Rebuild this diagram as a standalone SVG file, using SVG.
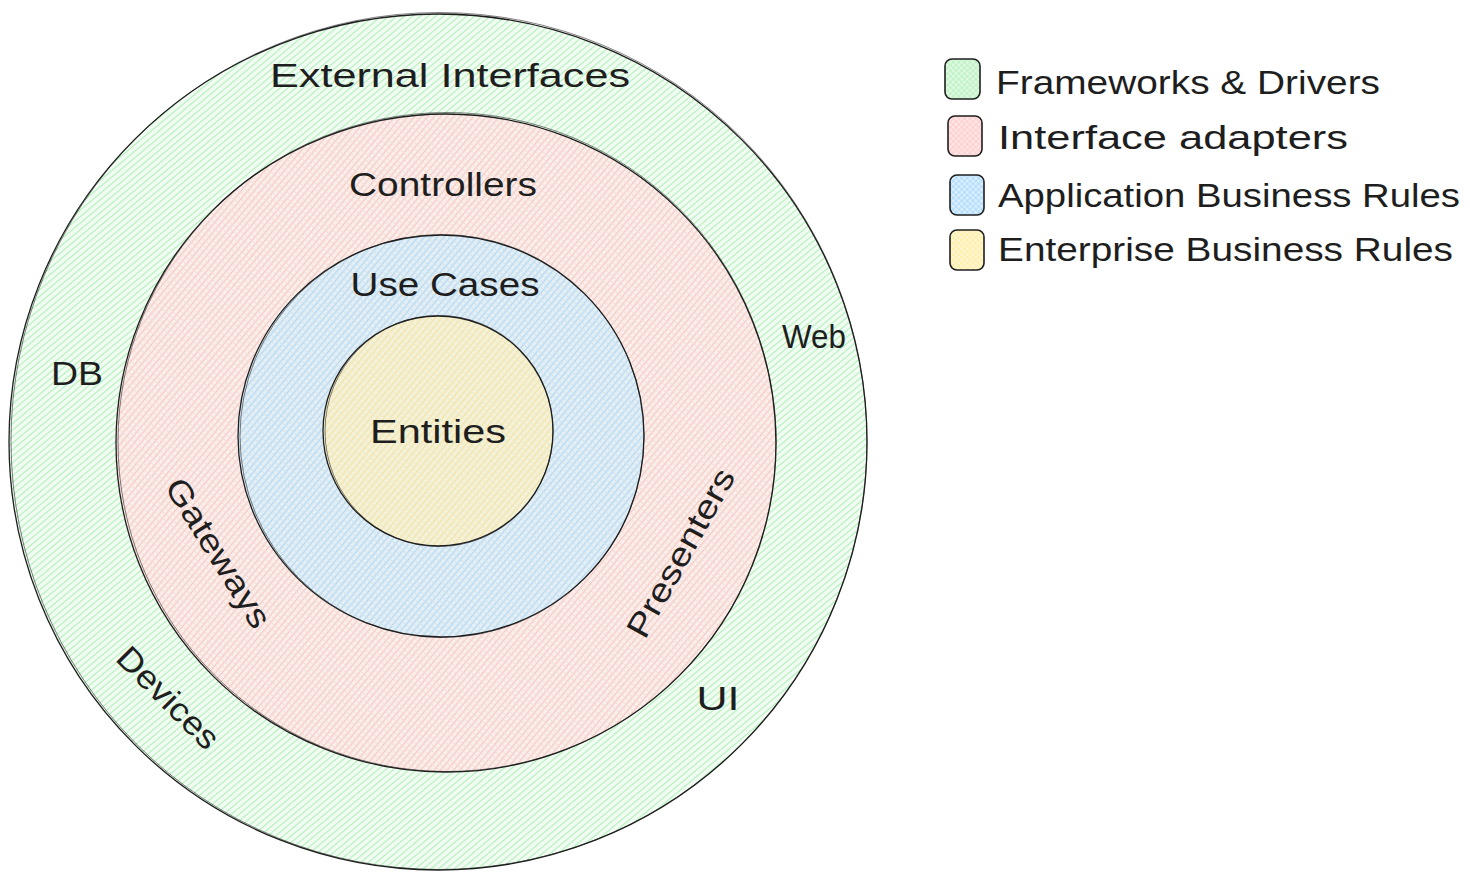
<svg xmlns="http://www.w3.org/2000/svg" width="1470" height="880" viewBox="0 0 1470 880">
<defs>
<pattern id="hG" width="5" height="5" patternUnits="userSpaceOnUse" patternTransform="rotate(-40)">
<rect width="5" height="5" fill="#f3fbf4"/>
<line x1="0" y1="2.5" x2="5" y2="2.5" stroke="#b2f2bb" stroke-width="1.2"/>
</pattern>
<pattern id="hR" width="5" height="5" patternUnits="userSpaceOnUse" patternTransform="rotate(-50)">
<rect width="5" height="5" fill="#fbefec"/>
<line x1="0" y1="2.5" x2="5" y2="2.5" stroke="#f6c9c4" stroke-width="1.3"/>
<line x1="2.5" y1="0" x2="2.5" y2="5" stroke="#f3dcd6" stroke-width="0.8"/>
</pattern>
<pattern id="hB" width="5" height="5" patternUnits="userSpaceOnUse" patternTransform="rotate(-50)">
<rect width="5" height="5" fill="#e4eff6"/>
<line x1="0" y1="2.5" x2="5" y2="2.5" stroke="#b4d8f2" stroke-width="1.3"/>
<line x1="2.5" y1="0" x2="2.5" y2="5" stroke="#cfe2ea" stroke-width="0.8"/>
</pattern>
<pattern id="hY" width="5" height="5" patternUnits="userSpaceOnUse" patternTransform="rotate(-50)">
<rect width="5" height="5" fill="#f7f1d8"/>
<line x1="0" y1="2.5" x2="5" y2="2.5" stroke="#f2e4a4" stroke-width="1.3"/>
<line x1="2.5" y1="0" x2="2.5" y2="5" stroke="#e6eccf" stroke-width="0.8"/>
</pattern>
<pattern id="lG" width="4" height="4" patternUnits="userSpaceOnUse" patternTransform="rotate(45)">
<rect width="4" height="4" fill="#e6f8e8"/>
<line x1="0" y1="2" x2="4" y2="2" stroke="#b2f2bb" stroke-width="1"/>
<line x1="2" y1="0" x2="2" y2="4" stroke="#b2f2bb" stroke-width="1"/>
</pattern>
<pattern id="lR" width="4" height="4" patternUnits="userSpaceOnUse" patternTransform="rotate(45)">
<rect width="4" height="4" fill="#fdeaea"/>
<line x1="0" y1="2" x2="4" y2="2" stroke="#ffc9c9" stroke-width="1"/>
<line x1="2" y1="0" x2="2" y2="4" stroke="#ffc9c9" stroke-width="1"/>
</pattern>
<pattern id="lB" width="4" height="4" patternUnits="userSpaceOnUse" patternTransform="rotate(45)">
<rect width="4" height="4" fill="#e3f2fd"/>
<line x1="0" y1="2" x2="4" y2="2" stroke="#a5d8ff" stroke-width="1"/>
<line x1="2" y1="0" x2="2" y2="4" stroke="#a5d8ff" stroke-width="1"/>
</pattern>
<pattern id="lY" width="4" height="4" patternUnits="userSpaceOnUse" patternTransform="rotate(45)">
<rect width="4" height="4" fill="#fff8dc"/>
<line x1="0" y1="2" x2="4" y2="2" stroke="#ffec99" stroke-width="1"/>
<line x1="2" y1="0" x2="2" y2="4" stroke="#ffec99" stroke-width="1"/>
</pattern>
</defs>
<style>
.ring{stroke:#1e1e1e;stroke-width:1.3}
.sk{fill:none;stroke:#1e1e1e;stroke-width:0.8;opacity:0.7}
.lbl{font-family:"Liberation Sans","Noto Sans",sans-serif;font-size:33px;fill:#1e1e1e;text-anchor:middle}
.leg{font-family:"Liberation Sans","Noto Sans",sans-serif;font-size:33px;fill:#1e1e1e}
.box{stroke:#1e1e1e;stroke-width:1.6}
</style>
<rect width="1470" height="880" fill="#ffffff"/>

<g id="frameworks-drivers">
<ellipse class="ring" cx="438" cy="442" rx="429" ry="428" fill="url(#hG)"/>
<ellipse class="sk" cx="439" cy="441" rx="428" ry="428.5"/>
<text class="lbl" x="450" y="87" textLength="360" lengthAdjust="spacingAndGlyphs">External Interfaces</text>
<text class="lbl" x="77" y="385" textLength="52" lengthAdjust="spacingAndGlyphs">DB</text>
<text class="lbl" x="814" y="348" textLength="64" lengthAdjust="spacingAndGlyphs">Web</text>
<text class="lbl" x="718" y="710" textLength="43" lengthAdjust="spacingAndGlyphs">UI</text>
<text class="lbl" transform="translate(168,698) rotate(45)" y="11" textLength="130" lengthAdjust="spacingAndGlyphs">Devices</text>
</g>

<g id="interface-adapters">
<ellipse class="ring" cx="446" cy="443" rx="330" ry="329" fill="url(#hR)"/>
<ellipse class="sk" cx="447" cy="442" rx="329" ry="329.5"/>
<text class="lbl" x="443" y="196" textLength="188" lengthAdjust="spacingAndGlyphs">Controllers</text>
<text class="lbl" transform="translate(218,553) rotate(58)" y="11" textLength="170" lengthAdjust="spacingAndGlyphs">Gateways</text>
<text class="lbl" transform="translate(681,553) rotate(-61)" y="11" textLength="188" lengthAdjust="spacingAndGlyphs">Presenters</text>
</g>

<g id="application-business-rules">
<ellipse class="ring" cx="441" cy="436" rx="203" ry="201" fill="url(#hB)"/>
<ellipse class="sk" cx="442" cy="436" rx="202" ry="201.5"/>
<text class="lbl" x="445" y="296" textLength="189" lengthAdjust="spacingAndGlyphs">Use Cases</text>
</g>

<g id="enterprise-business-rules">
<ellipse class="ring" cx="438" cy="431" rx="115" ry="115" fill="url(#hY)"/>
<ellipse class="sk" cx="439" cy="431" rx="114" ry="115.5"/>
<text class="lbl" x="438" y="443" textLength="136" lengthAdjust="spacingAndGlyphs">Entities</text>
</g>

<g id="legend">
<g id="legend-frameworks">
<rect class="box" x="945" y="59" width="35" height="40" rx="7" fill="url(#lG)"/>
<text class="leg" x="996" y="94" textLength="384" lengthAdjust="spacingAndGlyphs">Frameworks &amp; Drivers</text>
</g>
<g id="legend-adapters">
<rect class="box" x="948" y="116" width="34" height="40" rx="7" fill="url(#lR)"/>
<text class="leg" x="998" y="149" textLength="350" lengthAdjust="spacingAndGlyphs">Interface adapters</text>
</g>
<g id="legend-application">
<rect class="box" x="950" y="175" width="34" height="40" rx="7" fill="url(#lB)"/>
<text class="leg" x="998" y="207" textLength="462" lengthAdjust="spacingAndGlyphs">Application Business Rules</text>
</g>
<g id="legend-enterprise">
<rect class="box" x="950" y="230" width="34" height="40" rx="7" fill="url(#lY)"/>
<text class="leg" x="998" y="261" textLength="455" lengthAdjust="spacingAndGlyphs">Enterprise Business Rules</text>
</g>
</g>

<g id="connectors"></g>
</svg>
